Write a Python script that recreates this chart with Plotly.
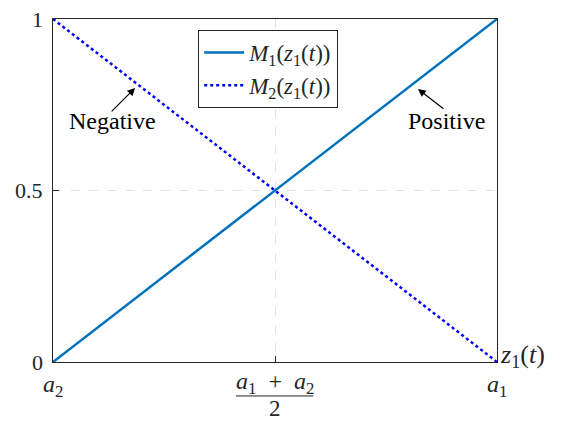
import plotly.graph_objects as go

x_vals = [0, 1]
m1_vals = [0, 1]
m2_vals = [1, 0]
y_ticks = [0, 0.5, 1]
y_tick_labels = ["0", "0.5", "1"]
x_ticks = [0, 0.5, 1]

FONT = "Liberation Serif, Times New Roman, DejaVu Serif, serif"
INK = "#262626"

def f(size, color=INK):
    return dict(family=FONT, size=size, color=color)

fig = go.Figure()
fig.add_trace(go.Scatter(x=x_vals, y=m1_vals, mode="lines",
                         line=dict(color="#0072BD", width=2.5),
                         name="<i>M</i><sub>1</sub>(<i>z</i><sub>1</sub>(<i>t</i>))"))
fig.add_trace(go.Scatter(x=x_vals, y=m2_vals, mode="lines",
                         line=dict(color="#0000FF", width=2.5, dash="dot"),
                         name="<i>M</i><sub>2</sub>(<i>z</i><sub>1</sub>(<i>t</i>))"))

fig.update_layout(
    width=562, height=421,
    margin=dict(l=53, r=65, t=19, b=59),
    plot_bgcolor="white", paper_bgcolor="white",
    font=f(22),
    showlegend=True,
    legend=dict(x=0.327, y=0.968, xanchor="left", yanchor="top",
                bordercolor=INK, borderwidth=1, bgcolor="white",
                font=f(23), tracegroupgap=0, itemwidth=40),
)
fig.update_xaxes(range=[0, 1], showgrid=True, gridcolor="#e3e3e3", griddash="dash",
                 tickvals=[0.5], showticklabels=False, ticks="inside", ticklen=6,
                 tickcolor=INK, showline=True, linecolor=INK, mirror=True,
                 zeroline=False)
fig.update_yaxes(range=[0, 1], showgrid=True, gridcolor="#e3e3e3", griddash="dash",
                 tickvals=[0.5], ticks="inside", ticklen=6,
                 tickcolor=INK, showline=True, linecolor=INK, mirror=True,
                 zeroline=False, showticklabels=False)

# y tick labels
for v, t in zip(y_ticks, y_tick_labels):
    fig.add_annotation(x=0, xref="x", y=v, yref="y", text=t, showarrow=False,
                       xanchor="right", xshift=-8, font=f(22))

# x tick labels
fig.add_annotation(x=x_ticks[0], y=0, xref="x", yref="y", yanchor="middle", yshift=-24,
                   text="<i>a</i><sub>2</sub>", showarrow=False, font=f(24))
fig.add_annotation(x=x_ticks[2], y=0, xref="x", yref="y", yanchor="middle", yshift=-24,
                   text="<i>a</i><sub>1</sub>", showarrow=False, font=f(24))
fig.add_annotation(x=x_ticks[1], y=0, xref="x", yref="y", yanchor="middle", yshift=-21,
                   text="<i>a</i><sub>1</sub>&nbsp; + &nbsp;<i>a</i><sub>2</sub>",
                   showarrow=False, font=f(24))
fig.add_annotation(x=x_ticks[1], y=0, xref="x", yref="y", yanchor="middle", yshift=-46,
                   text="2", showarrow=False, font=f(23))
fig.add_shape(type="line", xref="x", yref="paper", x0=0.412, x1=0.586,
              y0=-0.099, y1=-0.099, line=dict(color=INK, width=1))

# axis label at right
fig.add_annotation(x=1, y=0, xref="x", yref="y", xanchor="left", xshift=1, yshift=6,
                   text="<i>z</i><sub>1</sub>(<i>t</i>)", showarrow=False, font=f(26))

# arrows (drawn separately from their labels)
fig.add_annotation(x=0.185, y=0.799, xref="x", yref="y", text="",
                   showarrow=True, arrowhead=2, arrowsize=1.3, arrowwidth=1.2,
                   arrowcolor="black", ax=-25, ay=25, standoff=0)
fig.add_annotation(x=0.133, y=0.703, xref="x", yref="y", text="Negative",
                   showarrow=False, font=f(24, "black"))
fig.add_annotation(x=0.822, y=0.796, xref="x", yref="y", text="",
                   showarrow=True, arrowhead=2, arrowsize=1.3, arrowwidth=1.2,
                   arrowcolor="black", ax=27, ay=21, standoff=0)
fig.add_annotation(x=0.887, y=0.703, xref="x", yref="y", text="Positive",
                   showarrow=False, font=f(24, "black"))

fig.write_html("out.html", config={"displayModeBar": False},
               post_script="document.body.style.margin='0';")
